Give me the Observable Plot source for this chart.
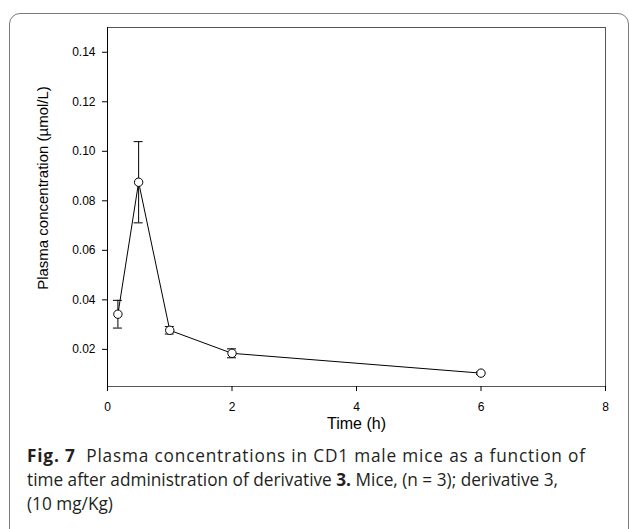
<!DOCTYPE html>
<html><head><meta charset="utf-8">
<script src="https://cdn.jsdelivr.net/npm/d3@7"></script>
<script src="https://cdn.jsdelivr.net/npm/@observablehq/plot@0.6"></script>
<style>
body{margin:0;background:#fff;position:relative;width:629px;height:529px;overflow:hidden;}
#chart{position:absolute;left:0;top:0;}
#box{position:absolute;left:9px;top:13px;width:620px;height:560px;border:1px solid #7a7a7a;border-radius:11px;box-sizing:border-box;pointer-events:none;z-index:2;}
#cap{position:absolute;left:27px;top:444px;font-family:"Open Sans",sans-serif;font-size:17.6px;line-height:24px;color:#231f20;white-space:nowrap;}
#cap b{font-weight:700;}
</style></head><body>
<div id="chart"></div>
<div id="cap"><span id="l1"><b>Fig. 7</b>&nbsp; Plasma concentrations in CD1 male mice as a function of</span><br><span id="l2">time after administration of derivative <b>3.</b> Mice, (n = 3); derivative 3,</span><br>(10 mg/Kg)</div>
<div id="box"></div>
<script>
const time = [0.167, 0.5, 1, 2, 6];
const conc = [0.0342, 0.0875, 0.0277, 0.0184, 0.0104];
const sd = [0.0056, 0.0164, 0.0015, 0.0018, 0.0005];
const xTicks = [0, 2, 4, 6, 8];
const yTicks = [0.02, 0.04, 0.06, 0.08, 0.10, 0.12, 0.14];
const xLabel = "Time (h)";
const yLabel = "Plasma concentration (\u00b5mol/L)";

const data = time.map((t, i) => ({t, c: conc[i], lo: conc[i] - sd[i], hi: conc[i] + sd[i]}));

const chart = Plot.plot({
  width: 629,
  height: 440,
  marginLeft: 107,
  marginRight: 24,
  marginTop: 27,
  marginBottom: 54,
  style: {fontFamily: "'Liberation Sans', Arial, sans-serif", fontSize: "12px", color: "#000", background: "transparent"},
  x: {domain: [0, 8]},
  y: {domain: [0.005, 0.15]},
  marks: [
    Plot.frame({stroke: "#555"}),
    Plot.ruleX([0], {stroke: "#000"}),
    Plot.axisX({ticks: xTicks, tickSize: 5, tickPadding: 11, label: null, fontSize: 12}),
    Plot.axisY({ticks: yTicks, tickFormat: d3.format(".2f"), tickSize: 5, tickPadding: 7, label: null, fontSize: 12}),
    Plot.ruleX(data, {x: "t", y1: "lo", y2: "hi", stroke: "#000", strokeWidth: 1}),
    Plot.ruleY(data, {y: "lo", x1: "t", x2: "t", insetLeft: -4.5, insetRight: -4.5, stroke: "#000"}),
    Plot.ruleY(data, {y: "hi", x1: "t", x2: "t", insetLeft: -4.5, insetRight: -4.5, stroke: "#000"}),
    Plot.line(data, {x: "t", y: "c", stroke: "#000", strokeWidth: 1}),
    Plot.dot(data, {x: "t", y: "c", r: 4.2, fill: "#fff", stroke: "#000", strokeWidth: 1}),
    Plot.text([xLabel], {text: d => d, frameAnchor: "bottom", dy: 42, fontSize: 16, fill: "#000"}),
    Plot.text([yLabel], {text: d => d, frameAnchor: "left", textAnchor: "middle", rotate: -90, dx: -64, dy: -19, fontSize: 15, fill: "#000"})
  ]
});
document.getElementById("chart").appendChild(chart);

// fit caption: line 2 ≈ 531px wide; line 1 ≈ 558px wide (slight tracking)
const cap = document.getElementById("cap");
const l1 = document.getElementById("l1");
const l2 = document.getElementById("l2");
const w2 = l2.getBoundingClientRect().width;
if (w2 > 0) cap.style.fontSize = (17.6 * 531 / w2).toFixed(2) + "px";
const w1 = l1.getBoundingClientRect().width;
if (w1 > 0 && w1 < 558) l1.style.letterSpacing = ((558 - w1) / 62).toFixed(2) + "px";
</script>
</body></html>
